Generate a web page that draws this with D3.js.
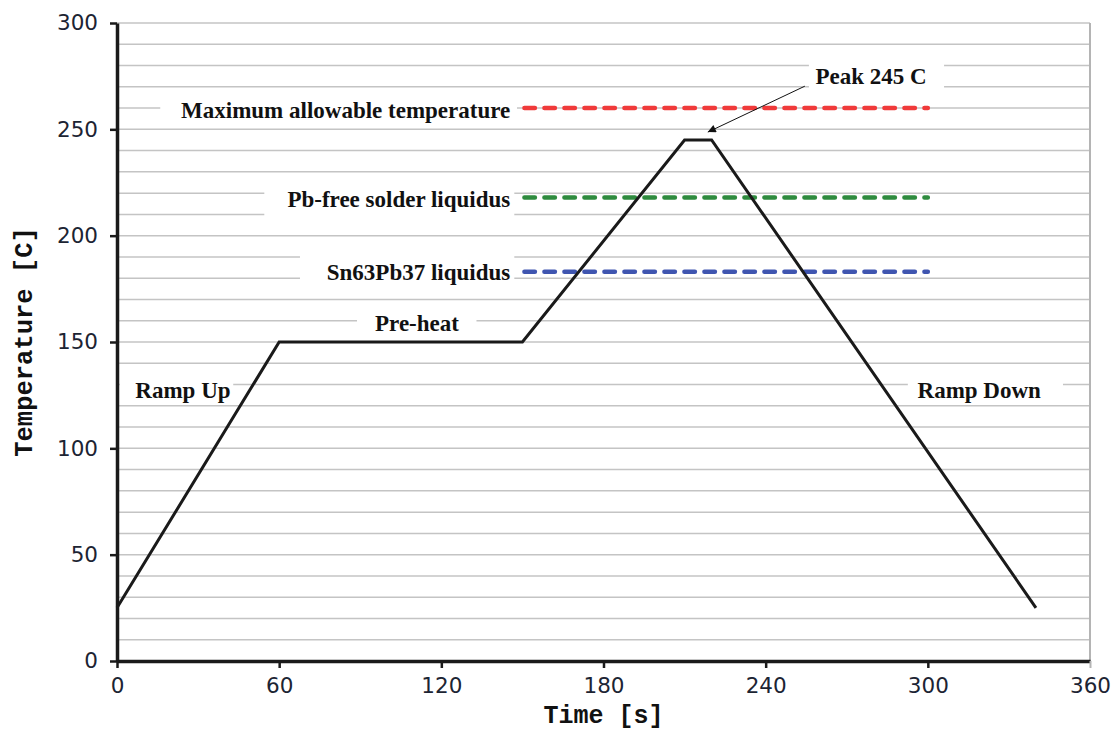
<!DOCTYPE html>
<html>
<head>
<meta charset="utf-8">
<script src="https://cdn.jsdelivr.net/npm/d3@7"></script>
<style>
  body { margin: 0; background: #fff; }
  svg { display: block; }
</style>
</head>
<body>
<div id="chart"></div>
<script>
var w = 1113;
var h = 732;

// reflow profile (time in s, temperature in C)
var profileTime = [0, 60, 150, 210, 220, 340];
var profileTemp = [25, 150, 150, 245, 245, 25];

// horizontal limit lines
var limitNames = ["Maximum allowable temperature", "Pb-free solder liquidus", "Sn63Pb37 liquidus"];
var limitTemps = [260, 218, 183];
var limitStart = 150, limitEnd = 300;
var limitColors = ["#f03a3a", "#2e8b3e", "#3f55b0"];

var xTicks = [0, 60, 120, 180, 240, 300, 360];
var yTicks = [0, 50, 100, 150, 200, 250, 300];

// text labels: text, anchor point (t, v), text-anchor, white box [t0, t1, v0, v1]
var labels = [
  {text: "Maximum allowable temperature", t: 145.5, v: 259.3, anchor: "end", box: [16, 148, 255, 265]},
  {text: "Pb-free solder liquidus", t: 145.5, v: 217.5, anchor: "end", box: [54.5, 147, 207, 224]},
  {text: "Sn63Pb37 liquidus", t: 145.5, v: 182.8, anchor: "end", box: [67.7, 147, 176, 194]},
  {text: "Pre-heat", t: 111, v: 159, anchor: "middle", box: [88.8, 133, 155, 165]},
  {text: "Ramp Up", t: 24.4, v: 127.4, anchor: "middle", box: [1, 43, 123, 135]},
  {text: "Ramp Down", t: 319, v: 127.4, anchor: "middle", box: [292.6, 350, 123, 135]},
  {text: "Peak 245 C", t: 279, v: 275, anchor: "middle", box: [256, 306, 266, 285]}
];
var peakArrow = {from: [254.5, 270.3], to: [218.6, 248.7]};

var margin = {top: 23, right: 23, bottom: 71, left: 117},
    width = w - margin.left - margin.right,
    height = h - margin.top - margin.bottom;

var svg = d3.select("#chart")
    .append("svg")
    .attr("width", w)
    .attr("height", h);

var x = d3.scaleLinear().domain([0, 360]).range([0, width]),
    y = d3.scaleLinear().domain([0, 300]).range([height, 0]);

var g = svg.append("g")
    .attr("transform", "translate(" + margin.left + "," + margin.top + ")");

// gridlines every 10 C
g.append("g")
  .selectAll("line")
  .data(d3.range(10, 301, 10))
  .enter().append("line")
    .attr("x1", 0)
    .attr("x2", width)
    .attr("y1", function(d) { return y(d); })
    .attr("y2", function(d) { return y(d); })
    .attr("stroke", "#c4c4c4")
    .attr("stroke-width", 1.5);

// right border
g.append("line")
    .attr("x1", x(360)).attr("x2", x(360))
    .attr("y1", y(0)).attr("y2", y(300))
    .attr("stroke", "#b4b4b4")
    .attr("stroke-width", 2);

// white boxes behind labels
g.append("g")
  .selectAll("rect")
  .data(labels)
  .enter().append("rect")
    .attr("x", function(d) { return x(d.box[0]); })
    .attr("y", function(d) { return y(d.box[3]); })
    .attr("width", function(d) { return x(d.box[1]) - x(d.box[0]); })
    .attr("height", function(d) { return y(d.box[2]) - y(d.box[3]); })
    .attr("fill", "#fff");

// limit lines
g.append("g")
  .selectAll("line")
  .data(limitTemps)
  .enter().append("line")
    .attr("x1", x(limitStart) + 2)
    .attr("x2", x(limitEnd))
    .attr("y1", function(d) { return y(d); })
    .attr("y2", function(d) { return y(d); })
    .attr("stroke", function(d, i) { return limitColors[i]; })
    .attr("stroke-width", 4.5)
    .attr("stroke-linecap", "round")
    .attr("stroke-dasharray", "10.5,9.5");

// profile line
var profile = profileTime.map(function(t, i) { return [t, profileTemp[i]]; });
g.append("path")
    .datum(profile)
    .attr("fill", "none")
    .attr("stroke", "#1a1a1a")
    .attr("stroke-width", 3)
    .attr("stroke-linejoin", "miter")
    .attr("d", d3.line()
      .x(function(d) { return x(d[0]); })
      .y(function(d) { return y(d[1]); }));

// labels
g.append("g")
  .selectAll("text")
  .data(labels)
  .enter().append("text")
    .attr("x", function(d) { return x(d.t); })
    .attr("y", function(d) { return y(d.v); })
    .attr("dy", "0.35em")
    .attr("text-anchor", function(d) { return d.anchor; })
    .style("font-family", "'Liberation Serif', 'Times New Roman', serif")
    .style("font-weight", "bold")
    .style("font-size", "23px")
    .attr("fill", "#111")
    .text(function(d) { return d.text; });

// peak arrow
svg.append("defs").append("marker")
    .attr("id", "arrowhead")
    .attr("viewBox", "0 0 10 10")
    .attr("refX", 10).attr("refY", 5)
    .attr("markerWidth", 11).attr("markerHeight", 8)
    .attr("markerUnits", "userSpaceOnUse")
    .attr("orient", "auto")
  .append("path")
    .attr("d", "M0,0 L10,5 L0,10 Z")
    .attr("fill", "#111");

g.append("line")
    .attr("x1", x(peakArrow.from[0])).attr("y1", y(peakArrow.from[1]))
    .attr("x2", x(peakArrow.to[0])).attr("y2", y(peakArrow.to[1]))
    .attr("stroke", "#111")
    .attr("stroke-width", 1)
    .attr("marker-end", "url(#arrowhead)");

// axes
var xAxis = g.append("g")
    .attr("transform", "translate(0," + height + ")")
    .call(d3.axisBottom(x).tickValues(xTicks).tickSize(7).tickSizeOuter(0));

var yAxis = g.append("g")
    .call(d3.axisLeft(y).tickValues(yTicks).tickSize(7).tickSizeOuter(0));

[xAxis, yAxis].forEach(function(a) {
  a.select(".domain").attr("stroke", "#1a1a1a").attr("stroke-width", 3.5);
  a.selectAll(".tick line").attr("stroke", "#1a1a1a").attr("stroke-width", 2.5);
  a.selectAll(".tick text")
    .attr("fill", "#1c2433")
    .style("font-family", "'DejaVu Sans', Verdana, sans-serif")
    .style("font-size", "21.5px");
});
xAxis.selectAll(".tick text").attr("y", 17);
yAxis.selectAll(".tick text").attr("x", -19);
xAxis.select(".tick:last-of-type line").attr("stroke", "#b4b4b4").attr("stroke-width", 2);

// axis titles
svg.append("text")
    .attr("x", margin.left + width / 2)
    .attr("y", 723)
    .attr("text-anchor", "middle")
    .style("font-family", "'Liberation Mono', 'Courier New', monospace")
    .style("font-weight", "bold")
    .style("font-size", "25px")
    .attr("fill", "#111")
    .text("Time [s]");

svg.append("text")
    .attr("transform", "translate(32," + (margin.top + height / 2) + ") rotate(-90)")
    .attr("text-anchor", "middle")
    .style("font-family", "'Liberation Mono', 'Courier New', monospace")
    .style("font-weight", "bold")
    .style("font-size", "25.5px")
    .attr("fill", "#111")
    .text("Temperature [C]");
</script>
</body>
</html>
